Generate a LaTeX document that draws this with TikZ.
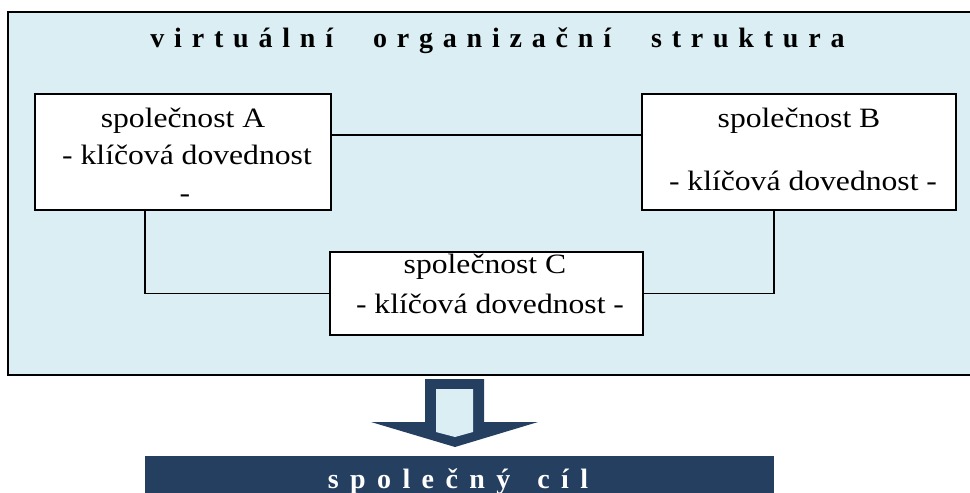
\documentclass[tikz,border=0pt]{standalone}
\usepackage{fontspec}
\usepackage{graphicx}
\setmainfont{Liberation Serif}
\definecolor{panelblue}{HTML}{DAEEF3}
\definecolor{navy}{HTML}{243F60}
\makeatletter
% letter-spaced word: #1 = gap between letters, #2 = word
\newcommand\spacedword[2]{\begingroup\def\sw@first{1}%
  \@tfor\sw@c:=#2\do{\ifx\sw@first\@empty\hskip#1\relax\fi\let\sw@first\@empty\sw@c}\endgroup}
\makeatother
\newcommand\wide[1]{\scalebox{1.13}[1]{#1}}
\begin{document}
\begin{tikzpicture}[x=1pt,y=-1pt,
  frame/.style={draw=black,line width=1.8pt,fill=panelblue,inner sep=0,
    minimum width=972pt,minimum height=363pt},
  firm/.style={draw=black,line width=1.6pt,fill=white,inner sep=0},
  link/.style={draw=black,line width=1.3pt},
  bodytext/.style={font=\fontsize{28}{28}\selectfont,anchor=base,inner sep=0},
  titletext/.style={font=\bfseries\fontsize{28}{28}\selectfont,anchor=base,inner sep=0},
  goaltext/.style={font=\bfseries\fontsize{28}{28}\selectfont,text=white,anchor=base,inner sep=0}]
\useasboundingbox (0,0) rectangle (970,493);
\fill[white] (0,0) rectangle (970,493);

% outer panel
\node[frame] (panel) at (494,193.5) {};
\node[titletext] (title) at (497.5,47)
  {\spacedword{9.8pt}{virtuální}\hskip40pt\spacedword{9.8pt}{organizační}\hskip40pt\spacedword{9.8pt}{struktura}};

% companies
\node[firm,minimum width=296pt,minimum height=116pt] (A) at (183,152) {};
\node[firm,minimum width=314pt,minimum height=116pt] (B) at (799,152) {};
\node[firm,minimum width=313pt,minimum height=83pt] (C) at (486.5,293.5) {};

\node[bodytext] (A1) at (183,127) {\wide{společnost A}};
\node[bodytext] (A2) at (187,164) {\wide{- klíčová dovednost}};
\node[bodytext] (A3) at (185,202) {\wide{-}};
\node[bodytext] (B1) at (799,127) {\wide{společnost B}};
\node[bodytext] (B2) at (803,190) {\wide{- klíčová dovednost -}};
\node[bodytext] (C1) at (485,273) {\wide{společnost C}};
\node[bodytext] (C2) at (490,313) {\wide{- klíčová dovednost -}};

% links between companies
\draw[link] ([yshift=17pt]A.east) -- ([yshift=17pt]B.west);
\draw[link] ([xshift=-38pt]A.south) |- (C.west);
\draw[link] ([xshift=-25pt]B.south) |- (C.east);

% block arrow towards the common goal
\fill[navy] (425,379) -- (484,379) -- (484,422) -- (538,422) -- (455,447)
  -- (371,422) -- (425,422) -- cycle;
\fill[panelblue] (436,389) -- (473,389) -- (473,432) -- (455,437) -- (436,432) -- cycle;

% common goal bar
\node[fill=navy,inner sep=0,minimum width=629pt,minimum height=60pt] (goal) at (459.5,486) {};
\node[goaltext] (goaltitle) at (458,488)
  {\spacedword{11.4pt}{společný}\hskip27pt\spacedword{11.4pt}{cíl}};
\end{tikzpicture}
\end{document}
